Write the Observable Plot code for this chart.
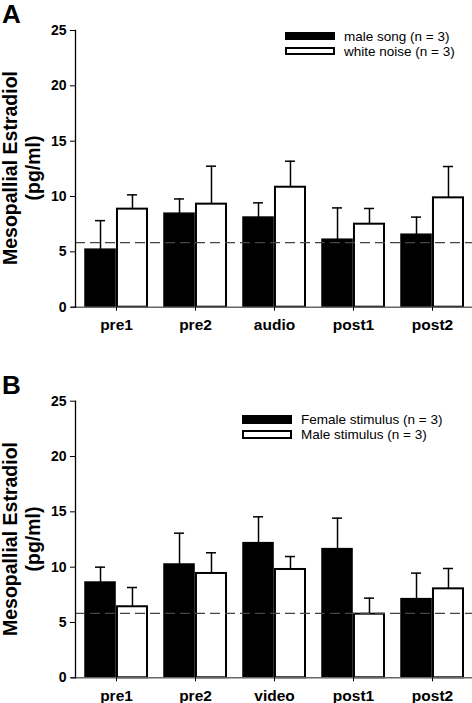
<!DOCTYPE html>
<html>
<head>
<meta charset="utf-8">
<script src="https://cdn.jsdelivr.net/npm/d3@7"></script>
<script src="https://cdn.jsdelivr.net/npm/@observablehq/plot@0.6"></script>
<style>
  body { margin: 0; background: #fff; font-family: "Liberation Sans", Arial, sans-serif; }
  #root { position: relative; width: 472px; height: 703px; overflow: hidden; background: #fff; }
  .abs { position: absolute; }
  .panel-letter { font-size: 26px; font-weight: bold; line-height: 26px; color: #000; }
  .ylab { width: 300px; height: 46px; text-align: center; font-size: 19.5px; font-weight: bold; line-height: 23px; transform: rotate(-90deg); white-space: nowrap; }
  .lg-rect { box-sizing: border-box; width: 50px; border: 2px solid #000; }
  .lg-text { font-size: 13.5px; line-height: 15px; white-space: nowrap; color: #000; }
</style>
</head>
<body>
<div id="root"></div>
<script>
// ---------- data ----------
const groupsA = ["pre1", "pre2", "audio", "post1", "post2"];
const maleSong = [5.2, 8.45, 8.1, 6.1, 6.55];
const maleSongErr = [2.62, 1.33, 1.33, 2.87, 1.59];
const whiteNoise = [8.86, 9.31, 10.84, 7.5, 9.88];
const whiteNoiseErr = [1.29, 3.43, 2.35, 1.42, 2.83];
const seriesA = ["male song (n = 3)", "white noise (n = 3)"];

const groupsB = ["pre1", "pre2", "video", "post1", "post2"];
const femaleStim = [8.61, 10.24, 12.17, 11.63, 7.11];
const femaleStimErr = [1.39, 2.83, 2.38, 2.8, 2.35];
const maleStim = [6.42, 9.43, 9.79, 5.75, 8.04];
const maleStimErr = [1.74, 1.87, 1.17, 1.45, 1.84];
const seriesB = ["Female stimulus (n = 3)", "Male stimulus (n = 3)"];

const baselineLevel = 5.83;
const yTicks = [0, 5, 10, 15, 20, 25];
const yLabelLines = ["Mesopallial Estradiol", "(pg/ml)"];

// ---------- layout ----------
const W = 472, ML = 75, MR = 0;
const PI = 0.22, PO = 0.11;

function makeChart(groups, v1, e1, v2, e2, height, mt, mb) {
  const n = groups.length;
  const step = (W - ML - MR) / (n - PI + 2 * PO);
  const bw = step * (1 - PI);
  const half = bw / 2;
  const c1 = (half - 1) / 2;          // center of first bar from band start
  const c2 = (3 * half + 1) / 2;      // center of second bar
  const cap = 5;
  const d1 = groups.map((g, i) => ({g, v: v1[i], hi: v1[i] + e1[i]}));
  const d2 = groups.map((g, i) => ({g, v: v2[i], hi: v2[i] + e2[i]}));
  return Plot.plot({
    width: W, height, marginLeft: ML, marginRight: MR, marginTop: mt, marginBottom: mb,
    style: {fontFamily: "Liberation Sans, Arial, sans-serif", background: "white", color: "black", overflow: "visible"},
    x: {type: "band", domain: groups, paddingInner: PI, paddingOuter: PO, axis: null},
    y: {domain: [0, 25], axis: null},
    marks: [
      Plot.barY(d1, {x: "g", y: "v", fill: "black", stroke: "black", strokeWidth: 1.5, insetRight: half + 1}),
      Plot.barY(d2, {x: "g", y: "v", fill: "white", stroke: "black", strokeWidth: 2, insetLeft: half + 1}),
      Plot.ruleX(d1, {x: "g", y1: "v", y2: "hi", dx: c1 - half, stroke: "black", strokeWidth: 1.5}),
      Plot.ruleX(d2, {x: "g", y1: "v", y2: "hi", dx: c2 - half, stroke: "black", strokeWidth: 1.5}),
      Plot.tickY(d1, {x: "g", y: "hi", insetLeft: c1 - cap, insetRight: bw - c1 - cap, stroke: "black", strokeWidth: 1.5}),
      Plot.tickY(d2, {x: "g", y: "hi", insetLeft: c2 - cap, insetRight: bw - c2 - cap, stroke: "black", strokeWidth: 1.5}),
      Plot.ruleY([baselineLevel], {stroke: "#444", strokeWidth: 1.3, strokeDasharray: "10,5"}),
      Plot.ruleY([0], {stroke: "#666", strokeWidth: 1.5, insetLeft: -4}),
      Plot.frame({anchor: "left", stroke: "black", strokeWidth: 1.3}),
      Plot.axisY({ticks: yTicks, tickSize: 5, tickPadding: 4, fontSize: 14, fontWeight: "bold", label: null}),
      Plot.axisX({tickSize: 4, tickPadding: 8, fontSize: 15.5, fontWeight: "bold", label: null})
    ]
  });
}

const root = document.getElementById("root");
function place(el, left, top) {
  el.classList.add("abs");
  el.style.left = left + "px";
  el.style.top = top + "px";
  root.appendChild(el);
  return el;
}
function div(cls, html) { const d = document.createElement("div"); d.className = cls; d.innerHTML = html; return d; }

// Panel A
place(makeChart(groupsA, maleSong, maleSongErr, whiteNoise, whiteNoiseErr, 350, 30, 43.3), 0, 0);
// Panel B
place(makeChart(groupsB, femaleStim, femaleStimErr, maleStim, maleStimErr, 333, 30.7, 25.7), 0, 370);

// Panel letters
place(div("panel-letter", "A"), 2, 1);
place(div("panel-letter", "B"), 2, 372);

// Y labels
place(div("ylab", yLabelLines.join("<br>")), 22 - 150, 168 - 23);
place(div("ylab", yLabelLines.join("<br>")), 22 - 150, 539 - 23);

// Legends
function legend(x, y1, y2, h, tx, labels) {
  const r1 = place(div("lg-rect", ""), x, y1); r1.style.height = h + "px"; r1.style.background = "#000";
  const r2 = place(div("lg-rect", ""), x, y2); r2.style.height = h + "px"; r2.style.background = "#fff";
  place(div("lg-text", labels[0]), tx, y1 + h / 2 - 7.5);
  place(div("lg-text", labels[1]), tx, y2 + h / 2 - 7.5);
}
legend(285, 32, 47, 8, 344, seriesA);
legend(242, 415, 430, 9, 301, seriesB);
</script>
</body>
</html>
